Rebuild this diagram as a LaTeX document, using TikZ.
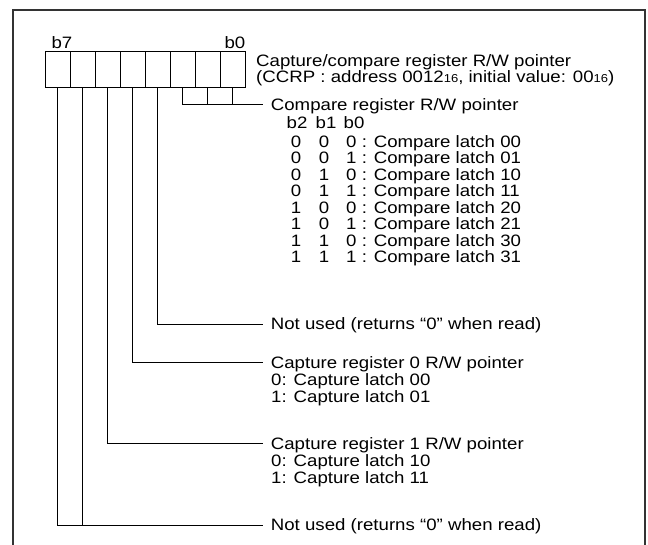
\documentclass[tikz,border=0pt]{standalone}
\usepackage{fontspec}
\setmainfont{Liberation Sans}
\usetikzlibrary{positioning}
\definecolor{framecol}{RGB}{51,51,51}
\newcommand{\hexsfx}[1]{{\fontsize{11.5}{12}\selectfont #1}}
\tikzset{
  txt/.style={inner sep=0pt,text height=11.8pt,text depth=0pt,xscale=1.13,font=\fontsize{16.5}{17}\selectfont},
  bitcell/.style={rectangle,draw,line width=.8pt,minimum width=25pt,minimum height=36pt,inner sep=0pt},
  bitname/.style={txt},
  desc/.style={txt,anchor=west,outer xsep=7pt},
  plain/.style={txt,anchor=west},
  digit/.style={txt},
  lead/.style={line width=.8pt},
  frame/.style={draw=framecol,line width=2pt}
}

\begin{document}
\begin{tikzpicture}[x=1pt,y=-1pt]
\useasboundingbox (0,0) rectangle (648,545);
\draw[frame] (13,545) |- (645,10.5) -- (645,545);
% register CCRP
\foreach \b in {7,...,0}
  \node[bitcell] (c\b) at ({57.5+25*(7-\b)},69) {};
\node[bitname] (n7) at (62,43) {b7};
\node[bitname] (n0) at (235,43) {b0};
\node[plain] (ccrp) at (256,60.5) {Capture/compare register R/W pointer};
\node[plain] (ccrpa) at (256,77) {(CCRP : address 0012\hexsfx{16}, initial value: 00\hexsfx{16})};
% b2-b0
\node[desc] (cmp) at (263,104.5) {Compare register R/W pointer};
\draw[lead] (c2.south) |- (cmp.west);
\draw[lead] (c1.south) -- (c1 |- cmp.west);
\draw[lead] (c0.south) -- (c0 |- cmp.west);
\node[digit] (h2) at (297,123) {b2};
\node[digit] (h1) at (326,123) {b1};
\node[digit] (h0) at (354,123) {b0};
\foreach \r/\p/\q/\s/\l in {0/0/0/0/00,1/0/0/1/01,2/0/1/0/10,3/0/1/1/11,
                            4/1/0/0/20,5/1/0/1/21,6/1/1/0/30,7/1/1/1/31} {
  \node[digit] (r\r a) at (296,{141.5+16.5*\r}) {\p};
  \node[digit] (r\r b) at (324,{141.5+16.5*\r}) {\q};
  \node[plain] (r\r c) at (346,{141.5+16.5*\r}) {\s{} : Compare latch \l};
}
% b3
\node[desc] (nu1) at (263,324) {Not used (returns “0” when read)};
\draw[lead] (c3.south) |- (nu1.west);
% b4
\node[desc] (cap0) at (263,362.5) {Capture register 0 R/W pointer};
\node[plain] (cap0a) at (271,379.5) {0: Capture latch 00};
\node[plain] (cap0b) at (271,396.5) {1: Capture latch 01};
\draw[lead] (c4.south) |- (cap0.west);
% b5
\node[desc] (cap1) at (263,443.5) {Capture register 1 R/W pointer};
\node[plain] (cap1a) at (271,460.5) {0: Capture latch 10};
\node[plain] (cap1b) at (271,477.5) {1: Capture latch 11};
\draw[lead] (c5.south) |- (cap1.west);
% b6, b7
\node[desc] (nu2) at (263,525) {Not used (returns “0” when read)};
\draw[lead] (c7.south) |- (nu2.west);
\draw[lead] (c6.south) -- (c6 |- nu2.west);
\end{tikzpicture}
\end{document}
